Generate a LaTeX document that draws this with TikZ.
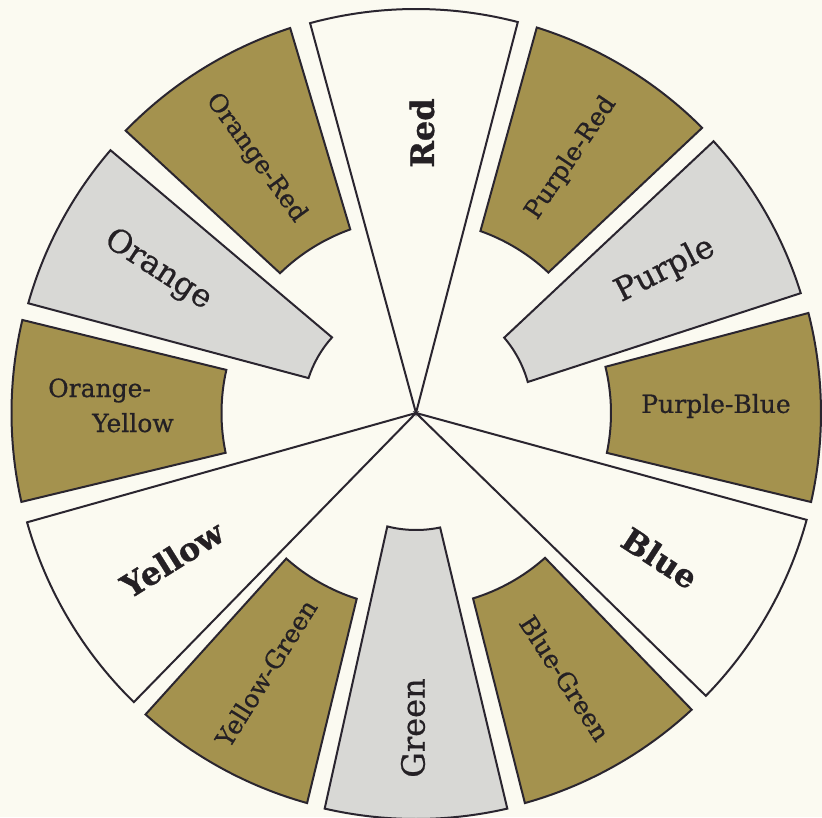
\documentclass[tikz,border=0pt]{standalone}
\usepackage{fontspec}
\setmainfont{DejaVu Serif}
\newfontfamily\medfont[FakeBold=0.7]{DejaVu Serif}
\newfontfamily\heavyfont[FakeBold=1.0]{DejaVu Serif Bold}
\definecolor{bg}{RGB}{251,250,241}
\definecolor{olivefill}{RGB}{164,146,78}
\definecolor{grayfill}{RGB}{216,216,213}
\definecolor{edgecol}{RGB}{42,37,47}
\definecolor{ink}{RGB}{36,32,36}
\newcommand{\csec}[7]{%
  \filldraw[piece, fill=#1] (#2:#6pt) arc[start angle=#2, end angle=#3, radius=#6pt]
    -- (#5:#7pt) arc[start angle=#5, end angle=#4, radius=#7pt] -- cycle;}
\newcommand{\wsec}[3]{%
  \filldraw[piece, fill=bg] (0pt,0pt) -- (#1:#3pt) arc[start angle=#1, end angle=#2, radius=#3pt] -- cycle;}
\begin{document}
\begin{tikzpicture}[x=1pt,y=1pt,
  piece/.style={draw=edgecol, line width=2pt, line join=miter},
  olivelab/.style={inner sep=0pt, text=ink, font=\medfont\fontsize{25}{29}\selectfont},
  graylab/.style={inner sep=0pt, text=ink, font=\medfont\fontsize{32}{36}\selectfont},
  boldlab/.style={inner sep=0pt, text=ink, font=\heavyfont\fontsize{32}{36}\selectfont}]
\fill[bg, use as bounding box] (-416,-404) rectangle (406,413);
% white primary wedges
\wsec{75.4}{105.2}{404}
\wsec{-44.3}{-15.3}{405}
\wsec{195.7}{225.7}{404}
% coloured ring pieces
\csec{olivefill}{44.9}{72.6}{46.7}{70.5}{404}{193}
\csec{grayfill}{17.3}{42.4}{15.5}{40.5}{403}{116}
\csec{olivefill}{-12.7}{14.3}{-11.8}{13.7}{405}{195}
\csec{olivefill}{-74.4}{-47.1}{-72.9}{-48.3}{405}{194}
\csec{grayfill}{-103}{-77}{-104.2}{-78.1}{406}{117}
\csec{olivefill}{-131.9}{-105.6}{-131.7}{-107.7}{405}{195}
\csec{olivefill}{166.7}{192.7}{167.2}{191.8}{404.5}{194.5}
\csec{grayfill}{139.3}{164.2}{138}{162}{403}{113}
\csec{olivefill}{108.1}{135.8}{109.7}{134.2}{405}{195}
% labels
\node[boldlab, rotate=90] (red) at (6,280) {Red};
\node[olivelab, rotate=56] (pr) at (155,255) {Purple-Red};
\node[graylab, rotate=27] (pu) at (249,143) {Purple};
\node[olivelab] (pb) at (300,7) {Purple-Blue};
\node[boldlab, rotate=-33] (bl) at (244,-145) {Blue};
\node[olivelab, rotate=-57] (bg) at (149,-265) {Blue-Green};
\node[graylab, rotate=90] (gr) at (-3,-315) {Green};
\node[olivelab, rotate=58] (yg) at (-150,-260) {Yellow-Green};
\node[boldlab, rotate=32] (ye) at (-244,-146) {Yellow};
\node[olivelab, anchor=base west] (oy1) at (-368,16) {Orange-};
\node[olivelab, anchor=base west] (oy2) at (-324,-19) {Yellow};
\node[graylab, rotate=-33] (or) at (-258,143) {Orange};
\node[olivelab, rotate=-54] (ore) at (-160,255) {Orange-Red};
\end{tikzpicture}
\end{document}
